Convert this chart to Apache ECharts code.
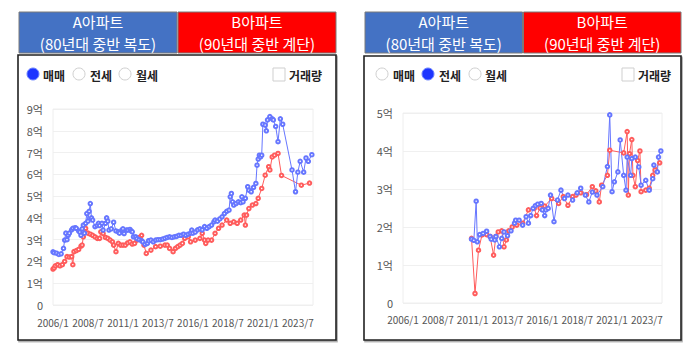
<!DOCTYPE html>
<html>
<head>
<meta charset="utf-8">
<script src="https://cdn.jsdelivr.net/npm/echarts@6/dist/echarts.min.js"></script>
<style>
html,body{margin:0;padding:0;background:#fff;}
#main{width:699px;height:349px;}
</style>
</head>
<body>
<div id="main"></div>
<script>
// ---- DATA ----
const panelTitles = [['A아파트', '(80년대 중반 복도)'], ['B아파트', '(90년대 중반 계단)']];
const modeLabels = ['매매', '전세', '월세'];
const volumeLabel = '거래량';
const xTickStart = 2006;

// 매매 (sale) — left panel
const saleA = [
 ['2006/1',2.44],['2006/2',2.40],['2006/4',2.38],['2006/6',2.32],['2006/8',2.35],['2006/10',2.60],['2006/11',2.98],['2006/12',3.30],
 ['2007/1',3.00],['2007/2',3.20],['2007/3',3.30],['2007/5',3.45],['2007/6',3.52],['2007/8',3.55],['2007/9',3.52],['2007/11',3.40],['2007/12',3.35],
 ['2008/1',3.20],['2008/2',3.50],['2008/3',3.67],['2008/4',3.30],['2008/5',3.75],['2008/6',4.20],['2008/7',3.85],['2008/8',4.30],['2008/9',4.66],['2008/10',4.00],['2008/11',3.90],
 ['2009/1',3.60],['2009/3',3.65],['2009/4',3.75],['2009/5',3.65],['2009/7',3.75],['2009/8',3.44],['2009/10',3.75],['2009/11',4.00],['2009/12',3.85],
 ['2010/1',3.44],['2010/3',3.50],['2010/5',3.80],['2010/7',3.40],['2010/9',3.36],['2010/10',3.30],['2010/12',3.44],
 ['2011/1',3.50],['2011/2',3.28],['2011/4',3.44],['2011/5',3.44],['2011/7',3.47],['2011/8',3.40],['2011/9',3.36],['2011/10',3.13],['2011/12',3.13],
 ['2012/1',3.05],['2012/3',3.00],['2012/5',2.95],['2012/6',2.90],['2012/8',2.78],['2012/10',2.83],['2012/11',2.95],
 ['2013/1',2.98],['2013/3',2.90],['2013/5',2.98],['2013/7',3.00],['2013/9',3.00],['2013/11',3.03],
 ['2014/1',3.06],['2014/3',3.10],['2014/5',3.13],['2014/7',3.10],['2014/9',3.13],['2014/11',3.15],
 ['2015/1',3.20],['2015/3',3.20],['2015/5',3.25],['2015/7',3.20],['2015/9',3.25],['2015/11',3.30],['2015/12',3.44],
 ['2016/1',3.30],['2016/3',3.35],['2016/5',3.45],['2016/7',3.50],['2016/9',3.45],['2016/11',3.60],
 ['2017/1',3.52],['2017/3',3.60],['2017/5',3.67],['2017/7',3.82],['2017/8',3.90],['2017/10',3.85],['2017/12',3.95],
 ['2018/2',4.05],['2018/4',4.20],['2018/6',4.30],['2018/8',4.36],['2018/9',4.97],['2018/10',5.12],['2018/11',4.74],['2018/12',4.59],
 ['2019/2',4.66],['2019/4',4.74],['2019/6',4.70],['2019/7',4.97],['2019/8',4.74],['2019/10',4.90],['2019/12',5.43],
 ['2020/1',5.27],['2020/3',5.20],['2020/5',5.40],['2020/7',5.58],['2020/8',6.42],['2020/9',6.70],['2020/10',6.88],['2020/11',6.80],['2020/12',6.88],
 ['2021/1',8.30],['2021/3',8.26],['2021/4',8.00],['2021/5',8.50],['2021/7',8.65],['2021/9',8.55],['2021/10',8.50],['2021/12',8.20],
 ['2022/2',7.50],['2022/4',8.55],['2022/6',8.30],
 ['2023/2',6.20],['2023/5',5.20],['2023/7',6.10],['2023/9',6.60],['2023/12',6.10],
 ['2024/2',6.75],['2024/4',6.60],['2024/7',6.90]
];
const saleB = [
 ['2006/1',1.65],['2006/2',1.70],['2006/3',1.80],['2006/5',1.85],['2006/7',1.80],['2006/9',1.85],['2006/11',2.00],
 ['2007/1',2.22],['2007/3',2.20],['2007/5',2.22],['2007/6',1.85],['2007/7',2.45],['2007/9',2.50],['2007/11',2.55],
 ['2008/1',2.70],['2008/2',2.75],['2008/3',3.13],['2008/5',3.52],['2008/7',3.30],['2008/9',3.25],['2008/11',3.20],
 ['2009/1',3.13],['2009/3',3.06],['2009/5',3.06],['2009/6',3.36],['2009/8',3.28],['2009/10',3.10],['2009/12',3.06],
 ['2010/2',2.98],['2010/4',2.90],['2010/5',2.75],['2010/7',2.45],['2010/9',2.83],['2010/11',2.75],
 ['2011/1',2.75],['2011/3',2.75],['2011/5',2.85],['2011/7',2.90],['2011/9',2.80],['2011/11',2.83],
 ['2012/1',2.98],['2012/3',3.10],['2012/5',3.20],['2012/7',2.75],['2012/9',2.37],
 ['2013/1',2.52],['2013/5',2.68],['2013/9',2.70],
 ['2014/1',2.75],['2014/3',2.75],['2014/5',2.60],['2014/8',2.45],['2014/10',2.60],['2014/12',2.68],
 ['2015/2',2.75],['2015/4',2.83],['2015/6',3.06],['2015/9',3.13],['2015/11',2.90],
 ['2016/3',2.98],['2016/7',3.06],['2016/9',3.29],['2016/11',2.98],['2016/12',2.83],
 ['2017/2',2.98],['2017/5',2.98],['2017/8',3.29],['2017/11',3.52],
 ['2018/2',3.67],['2018/6',3.90],['2018/9',3.75],['2018/12',3.82],
 ['2019/3',3.75],['2019/6',3.90],['2019/9',4.13],['2019/10',3.67],['2019/11',4.13],
 ['2020/1',4.43],['2020/4',4.59],['2020/7',4.66],['2020/9',4.90],['2020/12',5.35],
 ['2021/3',5.96],['2021/6',6.35],['2021/7',6.20],['2021/9',6.80],['2021/11',6.88],
 ['2022/2',6.96],['2022/5',5.95],['2023/10',5.50],['2024/5',5.60]
];

// 전세 (jeonse) — right panel
const jeonseA = [
 ['2010/12',1.68],['2011/2',1.65],['2011/4',2.68],['2011/5',1.61],['2011/7',1.80],['2011/10',1.83],
 ['2012/1',1.89],['2012/4',1.75],['2012/5',1.68],['2012/8',1.66],['2012/9',1.75],['2012/12',1.48],
 ['2013/2',1.70],['2013/4',1.87],['2013/7',1.77],['2013/10',1.90],
 ['2014/1',2.10],['2014/2',2.18],['2014/5',2.18],['2014/8',2.05],['2014/11',2.27],
 ['2015/1',2.10],['2015/3',2.30],['2015/5',2.49],['2015/7',2.56],['2015/9',2.60],['2015/12',2.62],
 ['2016/1',2.45],['2016/3',2.30],['2016/4',2.45],['2016/6',2.49],['2016/8',2.84],['2016/11',2.14],
 ['2017/2',2.71],['2017/5',2.97],['2017/8',2.75],['2017/11',2.84],
 ['2018/3',2.71],['2018/7',2.90],['2018/10',3.02],
 ['2019/2',2.84],['2019/5',2.66],['2019/8',2.92],['2019/12',2.84],
 ['2020/5',3.06],['2020/9',3.59],['2020/11',4.95],
 ['2021/1',2.93],['2021/3',3.19],['2021/6',3.45],['2021/8',4.29],['2021/11',3.36],
 ['2022/1',2.97],['2022/2',3.84],['2022/5',3.36],['2022/6',3.80],['2022/9',3.84],['2022/12',3.58],
 ['2023/2',3.10],['2023/6',3.23],['2023/9',2.97],['2023/12',3.27],
 ['2024/1',3.63],['2024/4',3.45],['2024/5',3.84],['2024/7',4.00]
];
const jeonseB = [
 ['2010/12',1.70],['2011/3',0.25],['2011/6',1.39],['2011/9',1.79],
 ['2012/1',1.80],['2012/4',1.75],['2012/7',1.26],['2012/9',1.75],['2012/11',1.87],
 ['2013/2',1.90],['2013/4',1.48],['2013/6',1.66],['2013/8',1.90],['2013/11',2.00],
 ['2014/3',2.05],['2014/8',2.10],
 ['2015/1',2.45],['2015/6',2.49],['2015/8',2.30],['2015/11',2.50],
 ['2016/3',2.55],['2016/9',2.75],
 ['2017/3',2.62],['2017/7',2.80],['2017/11',2.57],
 ['2018/3',2.80],['2018/6',2.84],['2018/10',2.90],
 ['2019/3',2.85],['2019/8',3.06],['2019/11',2.95],
 ['2020/2',2.66],['2020/4',3.10],['2020/9',3.36],['2020/11',4.02],
 ['2021/11',3.95],
 ['2022/2',4.51],['2022/3',2.84],['2022/4',3.93],['2022/6',4.30],['2022/7',3.36],['2022/9',3.06],['2022/11',3.75],
 ['2023/1',4.00],['2023/2',2.93],['2023/6',2.97],['2023/9',3.02],['2023/12',3.36],
 ['2024/2',3.50],['2024/6',3.69]
];

// ---- HELPERS ----
const monthIndex = s => { const p = s.split('/').map(Number); return (p[0] - xTickStart) * 12 + (p[1] - 1); };
const toPoints = arr => arr.map(d => [monthIndex(d[0]), d[1]]);
const xFmt = v => (xTickStart + Math.floor(v / 12)) + '/' + (v % 12 + 1);
const yFmt = v => v === 0 ? '0' : v + '억';

const FONT = '"Noto Sans CJK KR", "Noto Sans", sans-serif';
const BLUE = '#6676ff';
const RED = '#ff5c5c';

const chart = echarts.init(document.getElementById('main'), null, {renderer: 'svg'});

function txt(text, x, y, size, fill, weight, align) {
  return {type: 'text', z: 3, style: {text: text, x: x, y: y, fill: fill, fontSize: size, fontWeight: weight, fontFamily: FONT,
    align: align, verticalAlign: 'middle', textAlign: align, textVerticalAlign: 'middle'}};
}
function header(x, w, y, h, fill, lines) {
  return [
    {type: 'rect', shape: {x: x, y: y, width: w, height: h}, style: {fill: fill, stroke: '#7a7a7a', lineWidth: 1}, z: 1},
    txt(lines[0], x + w / 2, y + 9.5, 15, '#fff', 'normal', 'center'),
    txt(lines[1], x + w / 2, y + 31.5, 15, '#fff', 'normal', 'center')
  ];
}
function radio(cx, cy, label, tx, selected) {
  return [
    {type: 'circle', shape: {cx: cx, cy: cy, r: 6}, style: selected ? {fill: '#1d35ff', stroke: '#6f86ff', lineWidth: 1} : {fill: '#fff', stroke: '#d0d0d0', lineWidth: 1}, z: 3},
    txt(label, tx, cy + 1, 12, '#222', 'bold', 'left')
  ];
}
function panel(bx, bw, headTop, boxTop, boxBottom, radios, selIdx, chkX) {
  const hw = (bw - 2) / 2;
  let els = [];
  els = els.concat(header(bx + 1, hw, headTop, 41, '#4472c4', panelTitles[0]));
  els = els.concat(header(bx + 2 + hw, hw, headTop, 41, '#ff0000', panelTitles[1]));
  els.push({type: 'rect', z: 0, shape: {x: bx, y: boxTop, width: bw, height: boxBottom - boxTop},
    style: {fill: '#fff', stroke: '#222', lineWidth: 1.6, shadowColor: 'rgba(0,0,0,0.35)', shadowOffsetX: 1, shadowOffsetY: 1.5, shadowBlur: 1}});
  radios.forEach((r, i) => { els = els.concat(radio(r[0], 74, modeLabels[i], r[1], i === selIdx)); });
  els.push({type: 'rect', z: 3, shape: {x: chkX, y: 68, width: 12, height: 13}, style: {fill: '#fff', stroke: '#cfcfcf', lineWidth: 1}});
  els.push(txt(volumeLabel, chkX + 16, 75, 12, '#222', 'bold', 'left'));
  return els;
}

const graphics = []
  .concat(panel(18, 318, 12, 55, 340, [[33, 43], [79, 90], [125, 136]], 0, 273))
  .concat(panel(364, 317, 12, 56, 340, [[382, 393], [428, 439], [475, 485]], 1, 622));

function xAxisCfg(gi, margin) {
  return {type: 'value', gridIndex: gi, min: 0, max: 223, interval: 30,
    axisLine: {show: false}, axisTick: {show: false}, splitLine: {show: false},
    axisLabel: {formatter: xFmt, color: '#555', fontSize: 10, fontFamily: FONT, margin: margin, showMaxLabel: false}};
}
function yAxisCfg(gi, max) {
  return {type: 'value', gridIndex: gi, min: 0, max: max, interval: 1,
    axisLine: {show: false}, axisTick: {show: false},
    splitLine: {lineStyle: {color: '#f0f0f0', width: 1}},
    axisLabel: {formatter: yFmt, color: '#555', fontSize: 11, fontFamily: FONT, margin: 10}};
}
function lineSeries(name, data, color, xi) {
  return {name: name, type: 'line', xAxisIndex: xi, yAxisIndex: xi, data: toPoints(data),
    symbol: 'emptyCircle', symbolSize: 3.5, showAllSymbol: true, animation: false,
    lineStyle: {color: color, width: 1}, itemStyle: {color: color, borderWidth: 1}, z: 5};
}

chart.setOption({
  animation: false,
  backgroundColor: '#fff',
  graphic: {elements: graphics},
  grid: [
    {left: 53, top: 109, width: 260, height: 196, show: true, borderColor: '#eeeeee', borderWidth: 1, backgroundColor: 'transparent', z: 2},
    {left: 403, top: 113, width: 259, height: 190, show: true, borderColor: '#eeeeee', borderWidth: 1, backgroundColor: 'transparent', z: 2}
  ],
  xAxis: [xAxisCfg(0, 12), xAxisCfg(1, 11)],
  yAxis: [yAxisCfg(0, 9), yAxisCfg(1, 5)],
  series: [
    lineSeries('B아파트 매매', saleB, RED, 0),
    lineSeries('A아파트 매매', saleA, BLUE, 0),
    lineSeries('B아파트 전세', jeonseB, RED, 1),
    lineSeries('A아파트 전세', jeonseA, BLUE, 1)
  ]
});
</script>
</body>
</html>
